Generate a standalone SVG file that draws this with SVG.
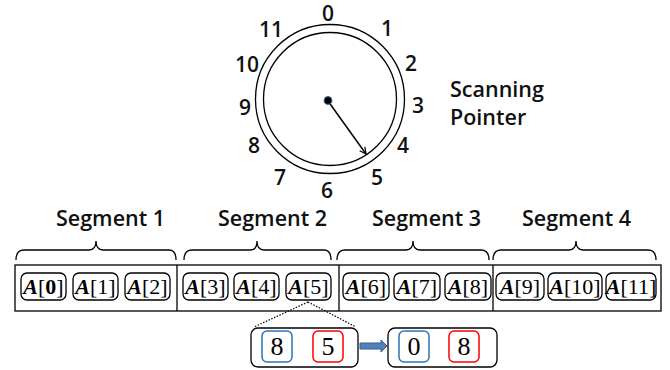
<svg xmlns="http://www.w3.org/2000/svg" width="670" height="370" viewBox="0 0 670 370">
<style>
.num{font-family:"Open Sans","Liberation Sans",sans-serif;font-size:21px;font-weight:600;fill:#111;text-anchor:middle}
.lbl{font-family:"Open Sans","Liberation Sans",sans-serif;font-size:21.5px;font-weight:600;fill:#111}
.cell{fill:#fff;stroke:#000;stroke-width:1.3}
.ct{font-family:"Liberation Serif",serif;font-size:22px;fill:#000;text-anchor:middle}
.ai{font-weight:bold;font-style:italic}
.ln{fill:none;stroke:#000;stroke-width:1.3}
.dig{font-family:"Liberation Serif",serif;font-size:26px;fill:#000;text-anchor:middle}
</style>
<defs>
<marker id="ah" viewBox="0 0 10 10" refX="9" refY="5" markerWidth="8" markerHeight="8" orient="auto" markerUnits="userSpaceOnUse">
<path d="M1,1 L9,5 L1,9" fill="none" stroke="#000" stroke-width="1.5"/>
</marker>
</defs>
<rect width="670" height="370" fill="#fff"/>

<g id="clock">
<circle cx="330" cy="99" r="74.5" class="ln"/>
<circle cx="330" cy="99" r="66.5" class="ln"/>
<text class="num" x="328" y="21">0</text>
<text class="num" x="387" y="36">1</text>
<text class="num" x="411" y="71">2</text>
<text class="num" x="418" y="113">3</text>
<text class="num" x="403" y="153">4</text>
<text class="num" x="377" y="185">5</text>
<text class="num" x="327" y="198">6</text>
<text class="num" x="280" y="185">7</text>
<text class="num" x="254" y="153">8</text>
<text class="num" x="245" y="115">9</text>
<text class="num" x="247" y="72">10</text>
<text class="num" x="271" y="37">11</text>
</g>

<g id="pointer">
<line x1="328" y1="101" x2="366" y2="154" stroke="#000" stroke-width="1.5" marker-end="url(#ah)"/>
<circle cx="328" cy="100.5" r="4" fill="#000" stroke="#41719c" stroke-width="1"/>
</g>

<g id="pointer-label">
<text class="lbl" x="450" y="97">Scanning</text>
<text class="lbl" x="450" y="125">Pointer</text>
</g>

<g id="segment-labels">
<text class="lbl" x="56" y="226">Segment 1</text>
<text class="lbl" x="218" y="226">Segment 2</text>
<text class="lbl" x="372" y="226">Segment 3</text>
<text class="lbl" x="522" y="226">Segment 4</text>
</g>

<g id="braces" class="ln">
<path d="M16,260 Q16,250 24,250 L89,250 Q96,250 96,241 Q96,250 103,250 L169,250 Q176,250 176,260"/>
<path d="M184,260 Q184,250 192,250 L250,250 Q257,250 257,241 Q257,250 264,250 L324,250 Q331,250 331,260"/>
<path d="M337,260 Q337,250 345,250 L406,250 Q413,250 413,241 Q413,250 420,250 L481,250 Q489,250 489,260"/>
<path d="M493,260 Q493,250 501,250 L569,250 Q576,250 576,241 Q576,250 583,250 L648,250 Q656,250 656,260"/>
</g>

<g id="array">
<rect x="15" y="265" width="646" height="46" class="ln"/>
<line x1="177" y1="265" x2="177" y2="311" class="ln"/>
<line x1="339" y1="265" x2="339" y2="311" class="ln"/>
<line x1="493" y1="265" x2="493" y2="311" class="ln"/>
</g>

<g id="cell0"><rect class="cell" x="21" y="273" width="45" height="27" rx="6"/><text class="ct" x="43.5" y="294"><tspan class="ai">A</tspan>[<tspan font-weight="bold">0</tspan>]</text></g>
<g id="cell1"><rect class="cell" x="73" y="273" width="45" height="27" rx="6"/><text class="ct" x="95.5" y="294"><tspan class="ai">A</tspan>[1]</text></g>
<g id="cell2"><rect class="cell" x="125" y="273" width="45" height="27" rx="6"/><text class="ct" x="147.5" y="294"><tspan class="ai">A</tspan>[2]</text></g>
<g id="cell3"><rect class="cell" x="183" y="273" width="45" height="27" rx="6"/><text class="ct" x="205.5" y="294"><tspan class="ai">A</tspan>[3]</text></g>
<g id="cell4"><rect class="cell" x="234" y="273" width="45" height="27" rx="6"/><text class="ct" x="256.5" y="294"><tspan class="ai">A</tspan>[4]</text></g>
<g id="cell5"><rect class="cell" x="286" y="273" width="45" height="27" rx="6"/><text class="ct" x="308.5" y="294"><tspan class="ai">A</tspan>[5]</text></g>
<g id="cell6"><rect class="cell" x="343" y="273" width="46" height="27" rx="6"/><text class="ct" x="366" y="294"><tspan class="ai">A</tspan>[6]</text></g>
<g id="cell7"><rect class="cell" x="394" y="273" width="46" height="27" rx="6"/><text class="ct" x="417" y="294"><tspan class="ai">A</tspan>[7]</text></g>
<g id="cell8"><rect class="cell" x="445" y="273" width="46" height="27" rx="6"/><text class="ct" x="468" y="294"><tspan class="ai">A</tspan>[8]</text></g>
<g id="cell9"><rect class="cell" x="496" y="273" width="48" height="27" rx="6"/><text class="ct" x="520" y="294"><tspan class="ai">A</tspan>[9]</text></g>
<g id="cell10"><rect class="cell" x="548" y="273" width="54" height="27" rx="6"/><text class="ct" x="575" y="294"><tspan class="ai">A</tspan>[10]</text></g>
<g id="cell11"><rect class="cell" x="606" y="273" width="50" height="27" rx="6"/><text class="ct" x="631" y="294"><tspan class="ai">A</tspan>[11]</text></g>

<g id="connectors">
<path d="M308,302 L254,327 M308,302 L356,327" fill="none" stroke="#000" stroke-width="1.2" stroke-dasharray="1.5,1.5"/>
<polygon points="360,343 381,343 381,340 387,346 381,352 381,349 360,349" fill="#4f81bd" stroke="#385d8a" stroke-width="1"/>
</g>

<g id="detail-before">
<rect x="251" y="328" width="107" height="39" rx="7" class="ln"/>
<rect x="262" y="331" width="30" height="31" rx="5" fill="none" stroke="#2e75b6" stroke-width="1.5"/>
<text class="dig" x="277" y="355">8</text>
<rect x="313" y="331" width="30" height="31" rx="5" fill="none" stroke="#ff0000" stroke-width="1.5"/>
<text class="dig" x="328" y="355">5</text>
</g>

<g id="detail-after">
<rect x="388" y="328" width="109" height="39" rx="7" class="ln"/>
<rect x="399" y="331" width="30" height="31" rx="5" fill="none" stroke="#2e75b6" stroke-width="1.5"/>
<text class="dig" x="414" y="355">0</text>
<rect x="449" y="331" width="30" height="31" rx="5" fill="none" stroke="#ff0000" stroke-width="1.5"/>
<text class="dig" x="464" y="355">8</text>
</g>
</svg>
